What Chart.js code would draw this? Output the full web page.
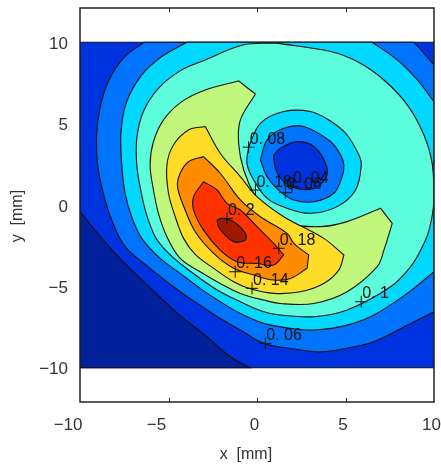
<!DOCTYPE html>
<html><head><meta charset="utf-8">
<style>html,body{margin:0;padding:0;background:#fff}canvas{display:block;filter:blur(0.7px)}</style>
<script src="https://cdn.jsdelivr.net/npm/chart.js@4/dist/chart.umd.js"></script>
</head><body><canvas id="c" width="441" height="464"></canvas>
<script>
const tickValues=[-10,-5,0,5,10];
const domainRect=[[-10,-10],[-10,-10],[10,-10],[10,-10],[10,10],[10,10],[-10,10],[-10,10]];
const lowCorner=[[-10,-0.41],[-10,-0.41],[-9.15,-1.54],[-8.02,-2.97],[-6.89,-4.2],[-5.09,-6.05],[-4.15,-6.97],[-2.83,-8.09],[-1.51,-9.32],[-0.38,-10],[-0.38,-10],[-10,-10],[-10,-10]];
const level06=[[-6.38,10],[-6.38,10],[-7.55,9.02],[-8.4,7.58],[-8.87,5.94],[-9.06,4.3],[-9,2.46],[-8.68,0.72],[-8.21,-0.92],[-7.45,-2.56],[-6.04,-3.89],[-4.34,-5.33],[-3.21,-6.15],[-2.08,-6.97],[-0.94,-7.68],[0.38,-8.5],[1.89,-8.81],[3.58,-9.02],[5.47,-8.71],[6.6,-8.4],[8.49,-7.38],[10,-6.56],[10,-6.56],[10,8.61],[10,8.61],[8.87,10],[8.87,10]];
const level08=[[-3.96,10],[-3.96,10],[-5.38,9.12],[-6.51,7.99],[-7.36,6.35],[-7.68,4.51],[-7.64,2.46],[-7.45,0.72],[-7.08,-0.72],[-6.51,-2.05],[-5.47,-3.28],[-4.34,-4.2],[-3.21,-5.12],[-2.08,-5.94],[-0.94,-6.66],[0.38,-7.27],[1.89,-7.58],[3.21,-7.68],[5.09,-7.38],[6.6,-6.76],[8.49,-5.43],[10,-4.1],[10,-4.1],[10,6.35],[10,6.35],[9.06,7.68],[7.92,8.91],[6.51,10],[6.51,10]];
const level10=[[1.13,9.94],[4.15,9.43],[5.66,8.81],[7.17,7.68],[8.49,6.15],[9.43,4.3],[9.91,2.46],[10,0.31],[9.72,-1.54],[9.25,-2.77],[8.68,-3.79],[7.55,-5.02],[5.09,-6.45],[3.21,-6.86],[1.32,-6.76],[0.38,-6.56],[-0.94,-5.94],[-2.08,-5.33],[-3.21,-4.51],[-4.34,-3.59],[-5.09,-2.87],[-5.75,-1.95],[-6.26,-0.51],[-6.57,0.92],[-6.79,2.46],[-6.79,4.1],[-6.42,5.74],[-5.57,7.17],[-4.25,8.3],[-2.92,8.91],[-0.75,9.84]];
const level12=[[-0.09,6.82],[-0.09,6.82],[-1.04,7.62],[-1.04,7.62],[-2.92,7.07],[-4.25,6.35],[-5.28,5.23],[-5.85,3.89],[-6.04,2.46],[-5.85,0.92],[-5.57,-0.51],[-5.09,-1.95],[-4.34,-3.28],[-3.21,-4.1],[-2.08,-4.82],[-0.94,-5.43],[0.38,-5.84],[1.32,-6.05],[3.21,-6.05],[5.09,-5.33],[6.79,-3.79],[7.17,-2.77],[7.64,-1.13],[7.64,-1.13],[6.98,-0.2],[6.98,-0.2],[5.09,-1.02],[3.58,-1.33],[1.7,-1.13],[0.57,-0.41],[-0.09,0.51],[-0.75,2.15],[-1.04,3.79],[-0.94,5.23]];
const level14=[[-2.92,4.82],[-2.92,4.82],[-3.87,4.61],[-4.72,3.69],[-5.09,2.46],[-5,0.72],[-4.62,-0.72],[-4.15,-2.05],[-3.49,-3.03],[-2.45,-3.89],[-1.32,-4.71],[-0.28,-5.18],[0.94,-5.43],[2.45,-5.33],[3.77,-4.82],[4.62,-4],[4.91,-3.07],[4.91,-3.07],[3.77,-2.05],[1.51,-0.72],[0,0.51],[-0.94,1.74],[-2.08,3.18]];
const level16=[[-3.02,2.97],[-3.02,2.97],[-3.87,2.66],[-4.34,1.95],[-4.49,1.13],[-4.06,-0.31],[-3.49,-1.64],[-2.45,-2.97],[-1.32,-3.89],[-0.19,-4.3],[0.94,-4.61],[1.89,-4.51],[2.83,-3.89],[2.83,-3.89],[2.92,-3.07],[2.92,-3.07],[2.08,-2.36],[1.7,-1.74],[0.19,-0.72],[-0.94,0.31],[-2.08,1.95]];
const level18=[[-3.02,1.43],[-3.02,1.43],[-3.58,0.51],[-3.58,-0.31],[-3.02,-1.54],[-2.08,-2.77],[-1.13,-3.48],[0,-3.59],[0.94,-3.69],[1.51,-3.07],[1.51,-3.07],[0.94,-2.36],[0,-1.33],[-0.94,-0.31],[-1.7,0.1],[-2.26,0.92]];
const level20=[[-2.26,-0.92],[-1.98,-0.82],[-1.32,-1.02],[-0.66,-1.74],[-0.66,-2.15],[-1.32,-2.25],[-1.89,-1.74],[-2.17,-1.33]];
const minRing10=[[-0.47,3.59],[0.19,5.02],[1.51,5.74],[3.02,5.74],[4.15,5.16],[5.09,4.3],[5.75,3.08],[5.89,2.46],[5.57,0.92],[4.53,-0.1],[3.02,-0.51],[1.7,-0.2],[0.57,0.41],[-0.19,1.54],[-0.57,2.56]];
const minRing08=[[0.19,2.77],[0.57,4],[1.51,4.71],[2.64,4.82],[4.15,3.9],[4.72,3.08],[4.91,2.46],[4.81,1.74],[4.34,0.72],[3.21,0.2],[2.08,0.31],[1.32,0.82],[0.57,1.74]];
const minRing06=[[0.94,3.07],[1.32,3.48],[2.26,3.89],[3.21,3.59],[3.87,2.56],[3.92,1.74],[3.21,1.02],[2.26,1.02],[1.51,1.43],[1.04,2.25]];
const labelTexts=['0. 08','0. 18','0. 06','0. 04','0. 2','0. 18','0. 16','0. 14','0. 1','0. 06'];
const labelAnchors=[[-0.47,3.55],[-0.09,0.92],[1.6,0.76],[1.98,1.13],[-1.7,-0.82],[1.23,-2.66],[-1.23,-4.1],[-0.28,-5.12],[5.89,-5.94],[0.47,-8.5]];

const c06='#0033e0',c08='#0073ff',c10='#00d8ff',c12='#5cfddc',c14='#bff87a',c16='#ffdc28',c18='#ff8c00',c20='#ff3300',c22='#a01800',cLow='#00209c';
const layers=[[domainRect,c06],[lowCorner,cLow],[level06,c08],[level08,c10],[level10,c12],[level12,c14],[level14,c16],[level16,c18],[level18,c20],[level20,c22],[minRing10,c10],[minRing08,c08],[minRing06,c06]];
const pts=a=>a.concat([a[0]]).map(p=>({x:p[0],y:p[1]}));
const datasets=layers.map((l,i)=>({data:pts(l[0]),showLine:true,fill:'shape',backgroundColor:l[1],borderColor:'#111',borderWidth:1.1,pointRadius:0,tension:0.35,order:100-i}));
datasets.push({data:labelAnchors.map(p=>({x:p[0],y:p[1]})),showLine:false,pointStyle:'cross',pointRadius:6,borderColor:'#111',borderWidth:1,order:0});

const frame={id:'frame',afterDatasetsDraw(ch){
  const g=ch.ctx,a=ch.chartArea,sx=ch.scales.x,sy=ch.scales.y;
  g.save();
  g.font='16px "Liberation Sans"';g.fillStyle='#111';g.textAlign='left';g.textBaseline='alphabetic';
  labelTexts.forEach((t,i)=>g.fillText(t,sx.getPixelForValue(labelAnchors[i][0])+1,sy.getPixelForValue(labelAnchors[i][1])-3.5));
  g.strokeStyle='#222';g.lineWidth=1.5;g.strokeRect(a.left,a.top,a.right-a.left,a.bottom-a.top);
  g.lineWidth=1;
  tickValues.slice(1,-1).forEach(v=>{const x=Math.round(sx.getPixelForValue(v))+.5;
    g.beginPath();g.moveTo(x,a.top);g.lineTo(x,a.top+4);g.moveTo(x,a.bottom);g.lineTo(x,a.bottom-4);g.stroke();});
  g.restore();
}};
const nb='\u00a0';
const minus=v=>v<0?'\u2212'+Math.abs(v):String(v);
const minusPad=v=>v<0?'\u2212'+Math.abs(v)+nb.repeat(4):String(v);
const tickFont={family:'"Liberation Sans"',size:17};
const titleFont={family:'"Liberation Sans"',size:16};
new Chart(document.getElementById('c'),{
  type:'scatter',
  data:{datasets},
  plugins:[frame],
  options:{responsive:false,animation:false,
    layout:{padding:{top:8,right:7,left:0,bottom:0}},
    plugins:{legend:{display:false},tooltip:{enabled:false}},
    scales:{
      x:{type:'linear',min:-10,max:10,grid:{display:false,drawTicks:false},border:{display:false},
        afterBuildTicks:s=>{s.ticks=tickValues.map(v=>({value:v}))},
        afterFit:s=>{s.height=62;s.paddingLeft=0;s.paddingRight=0},
        ticks:{color:'#333',font:tickFont,padding:13,labelOffset:-2.5,maxRotation:0,autoSkip:false,callback:minusPad},
        title:{display:true,text:'x  [mm]'+nb.repeat(5),color:'#333',font:titleFont,padding:{top:8,bottom:0}}},
      y:{type:'linear',min:-12.1,max:12.1,grid:{display:false,drawTicks:false},border:{display:false},
        afterBuildTicks:s=>{s.ticks=tickValues.map(v=>({value:v}))},
        afterFit:s=>{s.width=80;s.paddingTop=0;s.paddingBottom=0},
        ticks:{color:'#333',font:tickFont,padding:12,labelOffset:2,autoSkip:false,callback:minus},
        title:{display:true,text:'y  [mm]'+nb.repeat(5),color:'#333',font:titleFont,padding:{top:8,bottom:2}}}
    }}
});
</script></body></html>
